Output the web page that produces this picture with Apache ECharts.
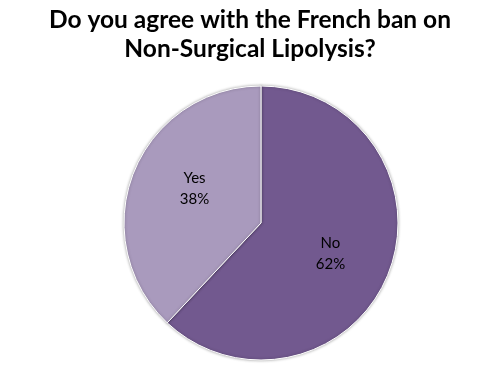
<!DOCTYPE html>
<html>
<head>
<meta charset="utf-8">
<script src="https://cdn.jsdelivr.net/npm/echarts@6/dist/echarts.min.js"></script>
<style>
html,body{margin:0;padding:0;background:#fff;}
#chart{width:487px;height:370px;}
</style>
</head>
<body>
<div id="chart"></div>
<script>
var titleLines = ['Do you agree with the French ban on', 'Non-Surgical Lipolysis?'];
var categories = ['No', 'Yes'];
var values = [62, 38];
var colors = ['#72598f', '#a99abd'];
var labelOffsets = [[3, 4], [0, -8]];

var titleStyle = {
  fontFamily: 'Lato',
  fontWeight: 'bold',
  fontSize: 24.5,
  color: '#000'
};

var chart = echarts.init(document.getElementById('chart'), null, {renderer: 'canvas'});
chart.setOption({
  animation: false,
  backgroundColor: '#ffffff',
  title: titleLines.map(function (t, i) {
    return {text: t, left: 250, textAlign: 'center', top: 8 + i * 29, padding: 0, textStyle: titleStyle};
  }),
  series: [{
    type: 'pie',
    center: [261, 223],
    radius: [0, 137],
    startAngle: 90,
    clockwise: true,
    data: categories.map(function (c, i) {
      return {name: c, value: values[i], itemStyle: {color: colors[i]}, label: {offset: labelOffsets[i]}};
    }),
    itemStyle: {
      borderColor: '#ffffff',
      borderWidth: 1,
      shadowBlur: 3,
      shadowColor: 'rgba(0,0,0,0.35)'
    },
    label: {
      position: 'inside',
      formatter: function (p) { return p.name + '\n' + Math.round(p.percent) + '%'; },
      fontFamily: 'Lato',
      fontSize: 15,
      lineHeight: 21,
      color: '#000'
    },
    labelLine: {show: false},
    emphasis: {disabled: true}
  }]
});
</script>
</body>
</html>
